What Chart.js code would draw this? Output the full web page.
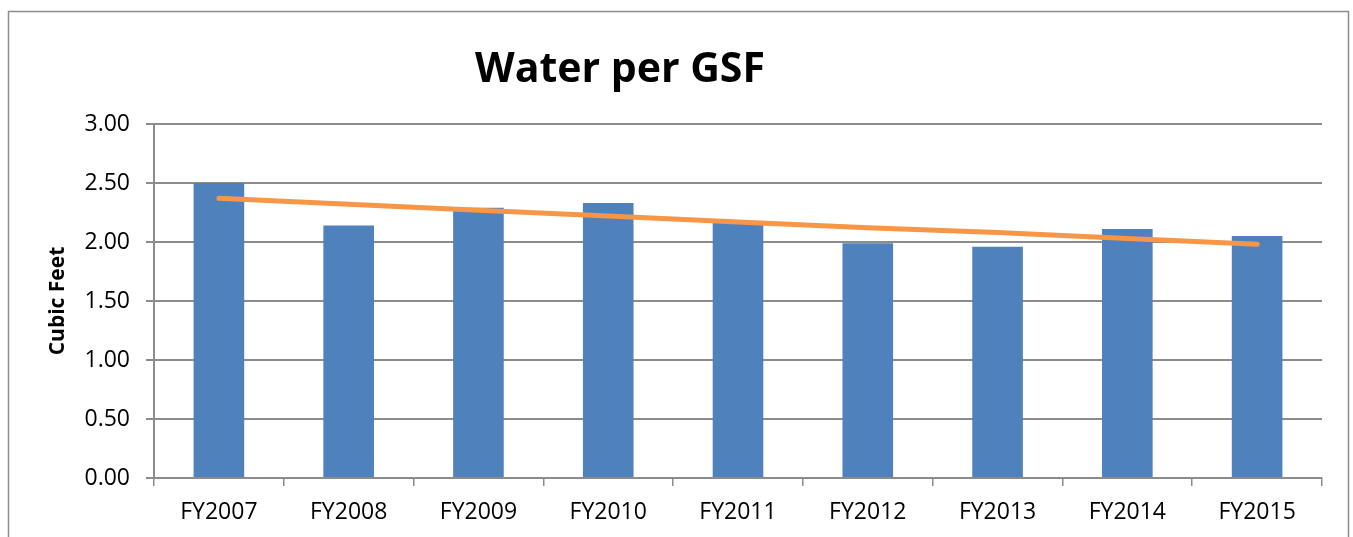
<!DOCTYPE html>
<html>
<head>
<meta charset="utf-8">
<script src="https://cdn.jsdelivr.net/npm/chart.js@4"></script>
<style>
  html, body { margin: 0; padding: 0; background: #fff; }
  #wrap { width: 1353px; height: 537px; position: relative; }
</style>
</head>
<body>
<div id="wrap"><canvas id="grafico" width="1353" height="537"></canvas></div>
<script>
// dados
const anos = ['FY2007', 'FY2008', 'FY2009', 'FY2010', 'FY2011', 'FY2012', 'FY2013', 'FY2014', 'FY2015']
const aguaPorGsf = [2.50, 2.14, 2.29, 2.33, 2.16, 1.99, 1.96, 2.11, 2.05]
const tendencia = [2.37, 2.32, 2.27, 2.22, 2.17, 2.12, 2.08, 2.03, 1.98]
const titulo = 'Water per GSF'
const tituloEixoY = 'Cubic Feet'

const fonte = "'Open Sans', sans-serif"
const cinza = '#8c8c8c'

/* moldura e titulo desenhados no canvas */
const moldura = {
    id: 'moldura',
    beforeDraw(chart) {
        const ctx = chart.ctx
        ctx.save()
        ctx.fillStyle = '#fff'
        ctx.fillRect(0, 0, chart.width, chart.height)
        ctx.strokeStyle = cinza
        ctx.lineWidth = 1.5
        ctx.strokeRect(8.5, 11.5, 1340, 600)
        ctx.restore()
    },
    afterDraw(chart) {
        const ctx = chart.ctx
        ctx.save()
        ctx.fillStyle = '#000'
        ctx.font = 'bold 41px ' + fonte
        ctx.textAlign = 'center'
        ctx.textBaseline = 'alphabetic'
        ctx.fillText(titulo, 620, 82)
        ctx.restore()
    }
}

const grafico = new Chart(document.querySelector('#grafico'), {
    type: 'bar',
    data: {
        labels: anos,
        datasets: [{
            type: 'line',
            label: 'Linear',
            data: tendencia,
            borderColor: '#F79646',
            borderWidth: 5,
            borderCapStyle: 'round',
            pointRadius: 0,
            order: 0
        }, {
            label: 'Water per GSF',
            data: aguaPorGsf,
            backgroundColor: '#4F81BD',
            barPercentage: 0.39,
            categoryPercentage: 1,
            order: 1
        }]
    },
    options: {
        responsive: false,
        animation: false,
        devicePixelRatio: 1,
        layout: { padding: { top: 124, right: 31, left: 0, bottom: 0 } },
        plugins: {
            legend: { display: false },
            tooltip: { enabled: false },
            title: { display: false }
        },
        scales: {
            x: {
                offset: true,
                grid: {
                    offset: true,
                    drawOnChartArea: false,
                    color: cinza,
                    lineWidth: 1.5,
                    tickLength: 8
                },
                border: { color: cinza, width: 1.5 },
                ticks: {
                    color: '#000',
                    font: { family: fonte, size: 23 },
                    padding: 13,
                    maxRotation: 0
                },
                afterFit(scale) { scale.height = 59 }
            },
            y: {
                min: 0,
                max: 3,
                ticks: {
                    stepSize: 0.5,
                    color: '#000',
                    font: { family: fonte, size: 23 },
                    padding: 16,
                    callback: v => v.toFixed(2)
                },
                grid: {
                    color: cinza,
                    lineWidth: 2,
                    tickLength: 8
                },
                border: { color: cinza, width: 2 },
                title: {
                    display: true,
                    text: tituloEixoY,
                    color: '#000',
                    font: { family: fonte, size: 21, weight: 'bold' },
                    padding: { top: 45, bottom: 0 }
                },
                afterFit(scale) { scale.width = 154 }
            }
        }
    },
    plugins: [moldura]
})
</script>
</body>
</html>
